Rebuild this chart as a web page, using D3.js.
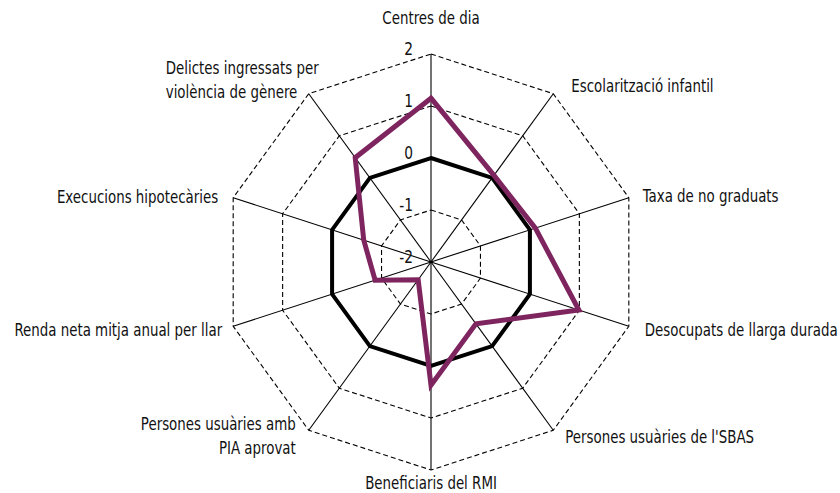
<!DOCTYPE html>
<html>
<head>
<meta charset="utf-8">
<script src="https://cdn.jsdelivr.net/npm/d3@7"></script>
<style>
  body { margin: 0; background: #fff; }
  text { font-family: "DejaVu Sans Condensed", "Liberation Sans", sans-serif; font-size: 17.5px; fill: #111; }
</style>
</head>
<body>
<div id="box"></div>
<script>
// eixos del radar (sentit horari des de dalt)
const axes = [
  'Centres de dia',
  'Escolarització infantil',
  'Taxa de no graduats',
  'Desocupats de llarga durada',
  "Persones usuàries de l'SBAS",
  'Beneficiaris del RMI',
  'Persones usuàries amb\nPIA aprovat',
  'Renda neta mitja anual per llar',
  'Execucions hipotecàries',
  'Delictes ingressats per\nviolència de gènere'
]
// sèrie de referència (mitjana = 0)
const reference = [0, 0, 0, 0, 0, 0, 0, 0, 0, 0]
// sèrie del territori
const territory = [1.15, 0.06, 0.11, 0.99, -0.53, 0.37, -1.58, -0.87, -0.64, 0.48]
// nivells de la graella
const levels = [-2, -1, 0, 1, 2]

const width = 840
const height = 493
const cx = 431, cy = 262
const R = 208
const squeeze = 0.85   // la font original és estreta

const r = d3.scaleLinear().domain([-2, 2]).range([0, R])
const angle = d3.scaleLinear().domain([0, axes.length]).range([0, 2 * Math.PI])

const svg = d3.select('#box').append('svg')
  .attr('width', width)
  .attr('height', height)

const g = svg.append('g').attr('transform', `translate(${cx},${cy})`)

const pt = (i, v) => [r(v) * Math.sin(angle(i)), -r(v) * Math.cos(angle(i))]
const closed = d3.line().curve(d3.curveLinearClosed)

// graella discontínua
g.append('g').selectAll('path')
  .data(levels.filter(l => l !== -2 && l !== 0))
  .join('path')
  .attr('d', l => closed(axes.map((a, i) => pt(i, l))))
  .attr('fill', 'none')
  .attr('stroke', '#000')
  .attr('stroke-width', 1.1)
  .attr('stroke-dasharray', '5,3')

// radis
g.append('g').selectAll('line')
  .data(axes)
  .join('line')
  .attr('x1', 0).attr('y1', 0)
  .attr('x2', (d, i) => pt(i, 2)[0])
  .attr('y2', (d, i) => pt(i, 2)[1])
  .attr('stroke', '#000')
  .attr('stroke-width', 1.1)

// sèries
const series = [
  {values: reference, color: '#000', w: 4},
  {values: territory, color: '#7e2560', w: 5}
]
g.append('g').selectAll('path')
  .data(series)
  .join('path')
  .attr('d', s => closed(s.values.map((v, i) => pt(i, v))))
  .attr('fill', 'none')
  .attr('stroke', s => s.color)
  .attr('stroke-width', s => s.w)
  .attr('stroke-linejoin', 'miter')

// etiquetes de nivell
g.append('g').selectAll('text')
  .data(levels)
  .join('text')
  .attr('transform', l => `translate(-18,${-r(l) + 1}) scale(${squeeze},1)`)
  .attr('text-anchor', 'end')
  .style('font-size', '18px')
  .text(l => l)

// posició de les etiquetes dels eixos
const labelPos = [
  {dx: 0, dy: -36, anchor: 'middle'},
  {dx: 18, dy: -8, anchor: 'start'},
  {dx: 14, dy: -2, anchor: 'start'},
  {dx: 16, dy: 4, anchor: 'start'},
  {dx: 12, dy: 7, anchor: 'start'},
  {dx: 0, dy: 13, anchor: 'middle'},
  {dx: -13, dy: 6, anchor: 'end'},
  {dx: -11, dy: 4, anchor: 'end'},
  {dx: -15, dy: -1, anchor: 'end'},
  {dx: -143, dy: -14, anchor: 'start'}
]
const lineH = 24

const labels = g.append('g')
axes.forEach((name, i) => {
  const [ex, ey] = pt(i, 2)
  const p = labelPos[i]
  const lines = name.split('\n')
  const t = labels.append('text')
    .attr('text-anchor', p.anchor)
    .attr('transform', `translate(${ex + p.dx},${ey + p.dy}) scale(${squeeze},1)`)
  lines.forEach((ln, j) => {
    t.append('tspan')
      .attr('x', 0)
      .attr('y', (j - (lines.length - 1) / 2) * lineH)
      .attr('dy', '0.35em')
      .text(ln)
  })
})
</script>
</body>
</html>
